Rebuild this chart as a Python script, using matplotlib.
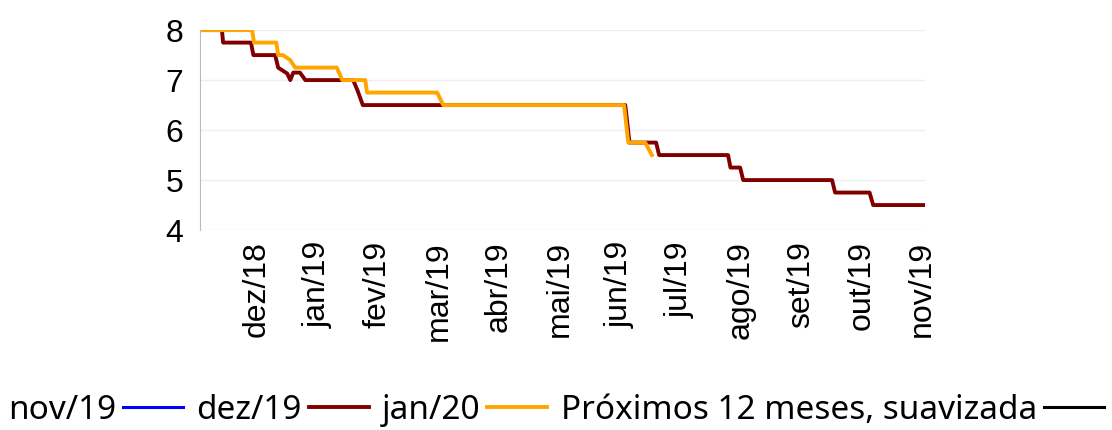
import matplotlib
matplotlib.use("Agg")
import matplotlib.pyplot as plt

# months counted from nov/18 (0) to nov/19 (12)
month_labels = ["dez/18", "jan/19", "fev/19", "mar/19", "abr/19", "mai/19",
                "jun/19", "jul/19", "ago/19", "set/19", "out/19", "nov/19"]
month_ticks = list(range(1, 13))

# dez/19 (dark red)
dez19_x = [0.06, 0.42, 0.44, 0.90, 0.94, 1.30, 1.35, 1.50, 1.55, 1.60, 1.71,
           1.80, 2.59, 2.66, 2.75, 7.09, 7.16, 7.60, 7.65, 8.79, 8.83, 8.99,
           9.04, 10.51, 10.56, 11.13, 11.19, 12.02]
dez19_y = [8.0, 8.0, 7.75, 7.75, 7.5, 7.5, 7.25, 7.13, 7.0, 7.15, 7.15,
           7.0, 7.0, 6.8, 6.5, 6.5, 5.75, 5.75, 5.5, 5.5, 5.25, 5.25,
           5.0, 5.0, 4.75, 4.75, 4.5, 4.5]

# jan/20 (orange)
jan20_x = [0.06, 0.92, 0.95, 1.32, 1.35, 1.43, 1.55, 1.63, 2.32, 2.41,
           2.79, 2.82, 3.98, 4.08, 7.07, 7.14, 7.42, 7.53]
jan20_y = [8.0, 8.0, 7.75, 7.75, 7.5, 7.5, 7.4, 7.25, 7.25, 7.0,
           7.0, 6.75, 6.75, 6.5, 6.5, 5.75, 5.75, 5.5]

# series without visible data
nov19_x, nov19_y = [], []
prox_x, prox_y = [], []

fig = plt.figure(figsize=(11.12, 4.30), dpi=100)
ax = fig.add_axes([0.18, 0.465, 0.652, 0.465])

ax.plot(nov19_x, nov19_y, color="#0000ff", lw=2.2, label="nov/19")
ax.plot(dez19_x, dez19_y, color="#800000", lw=2.8, label="dez/19")
ax.plot(jan20_x, jan20_y, color="#ffa500", lw=2.8, label="jan/20")
ax.plot(prox_x, prox_y, color="#000000", lw=2.2, label="Próximos 12 meses, suavizada")

ax.set_xlim(0.06, 12.05)
ax.set_ylim(4, 8)
ax.set_yticks([4, 5, 6, 7, 8])
ax.set_xticks(month_ticks)
ax.set_xticklabels(month_labels, rotation=90, fontsize=23, family="Liberation Sans")
for t in ax.get_yticklabels():
    t.set_fontsize(23)
    t.set_family("Liberation Sans")
ax.tick_params(length=0, pad=12)
ax.tick_params(axis="x", pad=8)
ax.grid(axis="y", color="#eeeeee", lw=1)
ax.set_axisbelow(True)
for s in ["top", "right", "bottom"]:
    ax.spines[s].set_visible(False)
ax.spines["left"].set_color("#bbbbbb")

fig.legend(loc="center", bbox_to_anchor=(0.5, 0.045), ncol=4, frameon=False,
           markerfirst=False, handlelength=1.8, handletextpad=0.2,
           columnspacing=0.4, prop={"family": "Noto Sans", "size": 24})

fig.savefig("out.png", dpi=100)
